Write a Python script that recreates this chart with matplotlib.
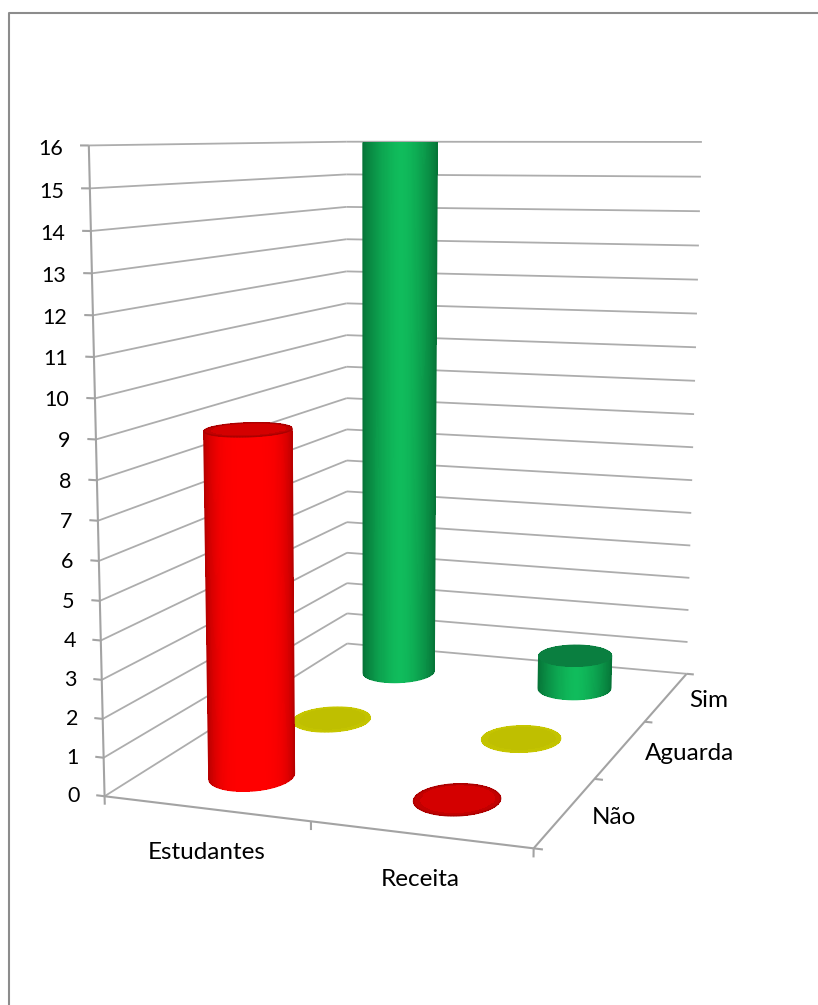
import numpy as np
import matplotlib
matplotlib.use("Agg")
import matplotlib.pyplot as plt
from matplotlib.lines import Line2D
from mpl_toolkits.mplot3d.art3d import Line3DCollection

plt.rcParams['font.family'] = ['Lato', 'DejaVu Sans']

categories = ['Estudantes', 'Receita']
series_names = ['Não', 'Aguarda', 'Sim']
nao = [9, 0]
aguarda = [0, 0]
sim = [16, 1]
z_ticks = list(range(0, 17))

GRID = '#adadad'
AXIS = '#a3a3a3'
side_center = {'Não': '#ff0000', 'Aguarda': '#ffff00', 'Sim': '#10bc5c'}
side_edge = {'Não': '#b80000', 'Aguarda': '#a0a000', 'Sim': '#067538'}
side_falloff = {'Não': 4, 'Aguarda': 3, 'Sim': 1.6}
cap_center = {'Não': '#d40000', 'Aguarda': '#bfbf00', 'Sim': '#0a7f40'}
cap_rim = {'Não': '#a80000', 'Aguarda': '#c8c800', 'Sim': '#0a7f40'}

fig = plt.figure(figsize=(8.18, 10.05), dpi=100)
ax = fig.add_subplot(projection='3d', computed_zorder=False)
ax.set_position([0, 0, 1, 1])
ax.set_axis_off()
ax.apply_aspect()

# camera: frame corners (data) against where they sit on the figure (pixels from top left)
n_cat, n_ser = len(categories), len(series_names)
z_max = z_ticks[-1]
frame_data = [(0, 0, 0), (n_cat, 0, 0), (n_cat, n_ser, 0), (0, n_ser, 0),
              (0, 0, z_max), (0, n_ser, z_max), (n_cat, n_ser, z_max)]
frame_px = [(105, 797), (533, 848), (687, 674), (347, 643),
            (89, 145), (346, 142), (702, 142)]
view_xy = ax.transData.inverted().transform([(px, 1005 - py) for px, py in frame_px])
rows = []
for (x, y, z), (u, v) in zip(frame_data, view_xy):
    rows.append([x, y, z, 1, 0, 0, 0, 0, -u * x, -u * y, -u * z, -u])
    rows.append([0, 0, 0, 0, x, y, z, 1, -v * x, -v * y, -v * z, -v])
cam = np.linalg.svd(np.array(rows))[2][-1].reshape(3, 4)
if cam[2] @ np.array([1, 1.5, 8, 1]) < 0:
    cam = -cam
M = np.vstack([cam[0], cam[1], [0, cam[2, 3] * 0.2, 0, 0], cam[2]])
ax.get_proj = lambda: M


def to_view(x, y, z):
    w = cam[2, 0] * x + cam[2, 1] * y + cam[2, 2] * z + cam[2, 3]
    return ((cam[0, 0] * x + cam[0, 1] * y + cam[0, 2] * z + cam[0, 3]) / w,
            (cam[1, 0] * x + cam[1, 1] * y + cam[1, 2] * z + cam[1, 3]) / w)


def label(x, y, z, s, size, ha):
    vx, vy = to_view(x, y, z)
    ax.text2D(vx, vy, s, transform=ax.transData, ha=ha, va='center', fontsize=size, color='black')


def mix(c_a, c_b, t):
    a = np.array(matplotlib.colors.to_rgba(c_a))
    b = np.array(matplotlib.colors.to_rgba(c_b))
    return a + (b - a) * t[..., None]


def lines(segments, color, width, zorder):
    ax.add_collection3d(Line3DCollection(segments, colors=color, linewidths=width, zorder=zorder))


def cylinder(cx, cy, h, name, zorder):
    rx, ry = 0.19, 0.23
    if h > 0:
        # only the half of the mantle that faces the camera
        t = np.linspace(0, 2 * np.pi, 721)[:-1]
        sx = to_view(cx + rx * np.cos(t), cy + ry * np.sin(t), h / 2)[0]
        t_left, t_right = t[sx.argmin()], t[sx.argmax()]
        arc = np.linspace(t_left, t_right + 2 * np.pi * (t_right < t_left), 91)
        ring_x = cx + rx * np.cos(arc)
        ring_y = cy + ry * np.sin(arc)
        sx = to_view(ring_x, ring_y, h / 2)[0]
        mid = (sx.max() + sx.min()) / 2
        half = (sx.max() - sx.min()) / 2
        shade = np.abs((sx - mid) / half) ** side_falloff[name]
        colors = mix(side_center[name], side_edge[name], shade)
        ax.plot_surface(np.array([ring_x, ring_x]), np.array([ring_y, ring_y]),
                        np.array([np.zeros_like(arc), np.full_like(arc, h)]),
                        facecolors=np.array([colors, colors]), rstride=1, cstride=1,
                        shade=False, linewidth=0, antialiased=False, zorder=zorder)
        # smooth outline over the unsmoothed mantle
        base = np.column_stack([ring_x, ring_y, np.zeros_like(arc)])
        lines(np.stack([base[:-1], base[1:]], axis=1), colors[:-1], 1.1, zorder + 0.2)
        lines([[base[0], (ring_x[0], ring_y[0], h)], [base[-1], (ring_x[-1], ring_y[-1], h)]],
              side_edge[name], 1.1, zorder + 0.2)
    if h < z_max:
        t = np.linspace(0, 2 * np.pi, 181)
        radius = np.array([0, 0.86, 1.0])
        cap_x = cx + rx * np.outer(radius, np.cos(t))
        cap_y = cy + ry * np.outer(radius, np.sin(t))
        amount = np.repeat(radius[:, None], t.size, axis=1) ** 6
        ax.plot_surface(cap_x, cap_y, np.full_like(cap_x, h),
                        facecolors=mix(cap_center[name], cap_rim[name], amount),
                        rstride=1, cstride=1, shade=False, linewidth=0,
                        antialiased=False, zorder=zorder + 0.5)
        rim = np.column_stack([cap_x[-1], cap_y[-1], np.full(t.size, h)])
        lines(np.stack([rim[:-1], rim[1:]], axis=1), cap_rim[name], 1.0, zorder + 0.6)


# walls and floor
grid_segments = []
for v in z_ticks:
    grid_segments.append([(0, 0, v), (0, n_ser, v)])
    grid_segments.append([(0, n_ser, v), (n_cat, n_ser, v)])
lines(grid_segments, GRID, 1.3, 1)
axis_segments = [[(0, 0, 0), (0, 0, z_max)], [(0, 0, 0), (n_cat, 0, 0)], [(n_cat, 0, 0), (n_cat, n_ser, 0)]]
axis_segments += [[(-0.042, 0, v), (0, 0, v)] for v in z_ticks]
axis_segments += [[(i, 0, 0), (i, 0, -0.22)] for i in range(n_cat + 1)]
axis_segments += [[(n_cat, j, 0), (n_cat + 0.04, j, 0)] for j in range(n_ser + 1)]
lines(axis_segments, AXIS, 1.5, 2)

for v in z_ticks:
    label(-0.125, 0, v - 0.08, str(v), 15.5, 'right')
for i, name in enumerate(categories):
    label(i + 0.5, 0, -1.12, name, 17.5, 'center')
for j, name in enumerate(series_names):
    label(n_cat + 0.12, j + 0.5, -0.06, name, 17.5, 'left')

# back row first
values = {'Não': nao, 'Aguarda': aguarda, 'Sim': sim}
for j in range(n_ser - 1, -1, -1):
    name = series_names[j]
    for i in range(n_cat):
        cylinder(i + 0.5, j + 0.5, values[name][i], name, zorder=10 + 2 * (n_ser - j) + i)

# page frame
fig.add_artist(Line2D([9 / 818, 9 / 818, 1], [0, 1 - 13 / 1005, 1 - 13 / 1005],
                      transform=fig.transFigure, color='#8c8c8c', lw=1.5))

fig.savefig('out.png', dpi=100)
